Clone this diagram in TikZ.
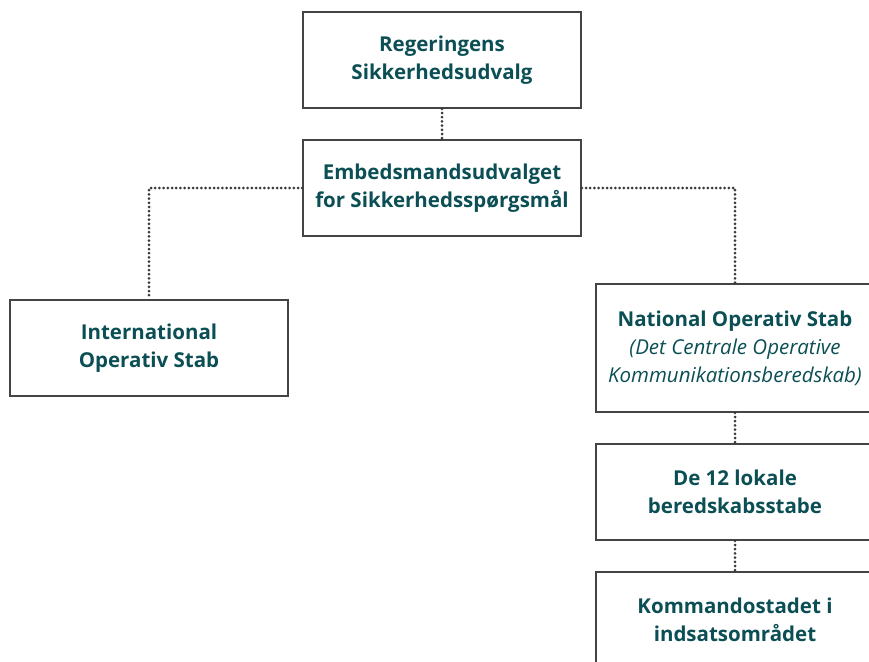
\documentclass[tikz,border=0pt]{standalone}
\usepackage{fontspec}
\setmainfont{Open Sans}
\definecolor{teal}{HTML}{0B4F55}
\definecolor{linegray}{HTML}{444444}
\begin{document}
\begin{tikzpicture}[x=1pt,y=-1pt,
  box/.style={draw=linegray,line width=1.6pt,minimum width=278pt,minimum height=96pt,
    inner sep=0pt,align=center,text=teal,font=\fontsize{20.5}{28}\selectfont\bfseries},
  conn/.style={draw=linegray!85!black,line width=3pt,line cap=round,dash pattern=on 0pt off 4.2pt}]
\useasboundingbox (0,0) rectangle (869,661);
\clip (0,0) rectangle (869,661);
\node[box] (rs) at (442,60) {Regeringens\\Sikkerhedsudvalg};
\node[box] (es) at (442,188) {Embedsmandsudvalget\\for Sikkerhedsspørgsmål};
\node[box] (ios) at (149,348) {International\\Operativ Stab};
\node[box,minimum height=128pt] (nos) at (735,348) {National Operativ Stab\\{\mdseries\itshape (Det Centrale Operative}\\{\mdseries\itshape Kommunikationsberedskab)}};
\node[box] (lbs) at (735,492) {De 12 lokale\\beredskabsstabe};
\node[box] (ko) at (735,620) {Kommandostadet i\\indsatsområdet};
\coordinate (lc) at (149,188);
\coordinate (rc) at (735,188);
\draw[conn] (rs.south) -- (es.north);
\draw[conn] (es.west) -- (lc) -- (ios.north);
\draw[conn] (es.east) -- (rc) -- (nos.north);
\draw[conn] (nos.south) -- (lbs.north);
\draw[conn] (lbs.south) -- (ko.north);
\end{tikzpicture}
\end{document}
